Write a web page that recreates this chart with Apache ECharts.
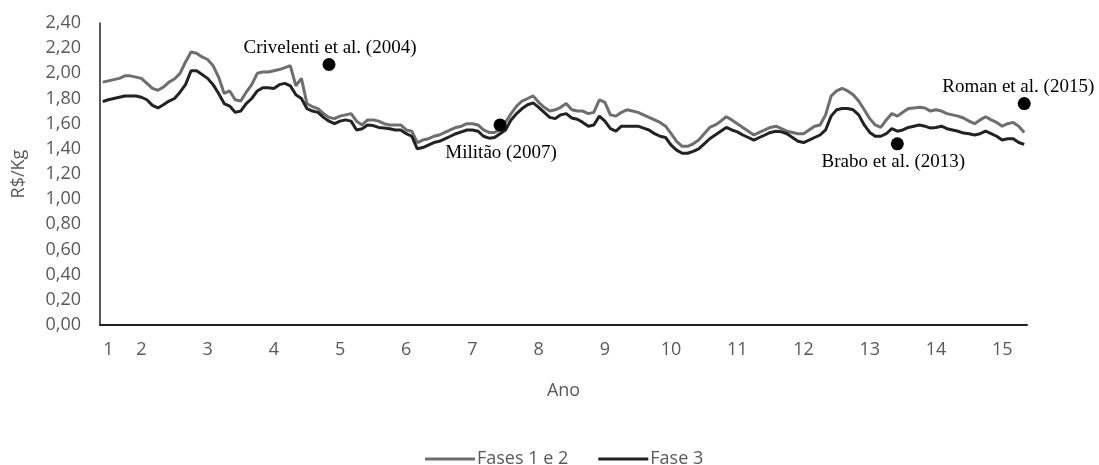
<!DOCTYPE html>
<html>
<head>
<meta charset="utf-8">
<script src="https://cdn.jsdelivr.net/npm/echarts@6/dist/echarts.min.js"></script>
<style>
html,body{margin:0;padding:0;background:#fff;}
#chart{width:1099px;height:465px;}
</style>
</head>
<body>
<div id="chart"></div>
<script>
// Monthly observations (168 months)
const fases12 = [1.93,1.94,1.95,1.96,1.98,1.98,1.97,1.96,1.92,1.88,
1.865,1.89,1.93,1.955,2.00,2.09,2.17,2.16,2.13,2.11,
2.06,1.97,1.84,1.86,1.79,1.78,1.85,1.91,2.00,2.01,
2.01,2.02,2.03,2.045,2.06,1.90,1.96,1.76,1.735,1.72,
1.68,1.65,1.64,1.66,1.67,1.68,1.62,1.59,1.63,1.63,
1.62,1.60,1.59,1.59,1.59,1.55,1.54,1.45,1.47,1.48,
1.50,1.51,1.53,1.55,1.57,1.58,1.60,1.60,1.59,1.55,
1.53,1.53,1.55,1.61,1.68,1.74,1.78,1.80,1.82,1.77,
1.73,1.70,1.71,1.73,1.76,1.71,1.70,1.70,1.68,1.69,
1.79,1.77,1.67,1.66,1.69,1.71,1.70,1.69,1.67,1.65,
1.63,1.61,1.58,1.52,1.46,1.42,1.42,1.44,1.47,1.52,
1.57,1.59,1.62,1.655,1.63,1.60,1.57,1.54,1.51,1.53,
1.55,1.57,1.58,1.56,1.54,1.53,1.52,1.52,1.55,1.58,
1.59,1.67,1.82,1.86,1.88,1.86,1.83,1.78,1.71,1.64,
1.59,1.57,1.63,1.68,1.66,1.69,1.72,1.725,1.73,1.725,
1.70,1.71,1.70,1.68,1.67,1.66,1.645,1.62,1.60,1.63,
1.655,1.63,1.61,1.58,1.60,1.61,1.58,1.53];

const fase3 = [1.775,1.79,1.80,1.81,1.82,1.82,1.82,1.81,1.79,1.745,
1.725,1.75,1.78,1.80,1.85,1.91,2.02,2.02,1.99,1.96,
1.91,1.84,1.76,1.74,1.69,1.70,1.76,1.80,1.86,1.886,
1.886,1.88,1.91,1.92,1.90,1.83,1.80,1.72,1.70,1.69,
1.65,1.62,1.60,1.62,1.63,1.62,1.55,1.56,1.59,1.585,
1.57,1.565,1.56,1.55,1.55,1.52,1.50,1.40,1.41,1.43,
1.45,1.46,1.48,1.50,1.52,1.535,1.55,1.55,1.54,1.50,
1.485,1.49,1.52,1.55,1.63,1.68,1.72,1.75,1.765,1.73,
1.69,1.65,1.64,1.67,1.68,1.645,1.635,1.61,1.58,1.59,
1.66,1.62,1.56,1.54,1.58,1.58,1.58,1.58,1.565,1.55,
1.52,1.50,1.49,1.43,1.39,1.365,1.365,1.38,1.40,1.44,
1.48,1.51,1.54,1.57,1.55,1.535,1.51,1.49,1.47,1.49,
1.51,1.53,1.54,1.535,1.52,1.49,1.46,1.45,1.47,1.49,
1.51,1.55,1.66,1.71,1.72,1.72,1.71,1.67,1.59,1.53,
1.50,1.50,1.52,1.56,1.54,1.55,1.57,1.58,1.59,1.58,
1.565,1.57,1.58,1.56,1.55,1.54,1.525,1.52,1.51,1.52,
1.54,1.52,1.50,1.47,1.48,1.48,1.45,1.435];

// x tick labels ("Ano") and the month at which each appears
const xTickLabels = ['1','2','3','4','5','6','7','8','9','10','11','12','13','14','15'];
const xTickMonth  = [1,7,19,31,43,55,67,79,91,103,115,127,139,151,163];

// Literature reference points
const refNames  = ['Crivelenti et al. (2004)','Militão (2007)','Brabo et al. (2013)','Roman et al. (2015)'];
const refMonth  = [41,72,144,167];
const refValue  = [2.07,1.59,1.44,1.76];

const seriesNames = ['Fases 1 e 2','Fase 3'];

// Build categories
const categories = fases12.map(function(_, i){
  const k = xTickMonth.indexOf(i);
  return k >= 0 ? xTickLabels[k] : '';
});

// label placement (style)
const refLabelStyle = [
  {position:'top', distance:1, offset:[1,0]},
  {position:'bottom', distance:12, offset:[1,0]},
  {position:'bottom', distance:2, offset:[-4,0]},
  {position:'top', distance:1, offset:[-6,0]}
];

const refData = refMonth.map(function(m, i){
  return {
    value:[m, refValue[i]],
    label: Object.assign({show:true, formatter: refNames[i]}, refLabelStyle[i])
  };
});

const chart = echarts.init(document.getElementById('chart'), null, {renderer:'canvas'});
const axisFont = '"Open Sans", "Noto Sans", sans-serif';
chart.setOption({
  animation:false,
  backgroundColor:'#ffffff',
  grid:{left:100, right:72, top:23, bottom:140, containLabel:false},
  legend:{
    data:seriesNames,
    left:425, top:450, padding:0,
    itemWidth:50, itemHeight:3, itemGap:30,
    icon:'rect',
    textStyle:{fontFamily:axisFont, fontSize:18, color:'#595959', padding:[0,0,0,-3]}
  },
  xAxis:{
    type:'category',
    data:categories,
    boundaryGap:true,
    name:'Ano', nameLocation:'middle', nameGap:57,
    nameTextStyle:{fontFamily:axisFont, fontSize:18, color:'#595959'},
    axisLine:{show:true, lineStyle:{color:'#222', width:2}},
    axisTick:{show:false},
    axisLabel:{interval:0, margin:16, fontFamily:axisFont, fontSize:18, color:'#595959'},
    splitLine:{show:false}
  },
  yAxis:{
    type:'value', min:0, max:2.4, interval:0.2,
    name:'R$/Kg', nameLocation:'middle', nameGap:72, nameRotate:90,
    nameTextStyle:{fontFamily:axisFont, fontSize:18, color:'#595959'},
    axisLine:{show:true, lineStyle:{color:'#222', width:1.5}},
    axisTick:{show:false},
    splitLine:{show:false},
    axisLabel:{margin:19, fontFamily:axisFont, fontSize:18, color:'#595959',
      formatter:function(v){return v.toFixed(2).replace('.', ',');}}
  },
  series:[
    {name:seriesNames[0], type:'line', data:fases12, symbol:'none', z:2,
     lineStyle:{color:'#6e6e6e', width:3}, itemStyle:{color:'#6e6e6e'}},
    {name:seriesNames[1], type:'line', data:fase3, symbol:'none', z:3,
     lineStyle:{color:'#222222', width:3}, itemStyle:{color:'#222222'}},
    {name:'Referências', type:'scatter', data:refData, symbol:'circle', symbolSize:13, z:5,
     itemStyle:{color:'#000', opacity:1},
     label:{fontFamily:'"Liberation Serif", "DejaVu Serif", serif', fontSize:19, color:'#000'}}
  ]
});
</script>
</body>
</html>
